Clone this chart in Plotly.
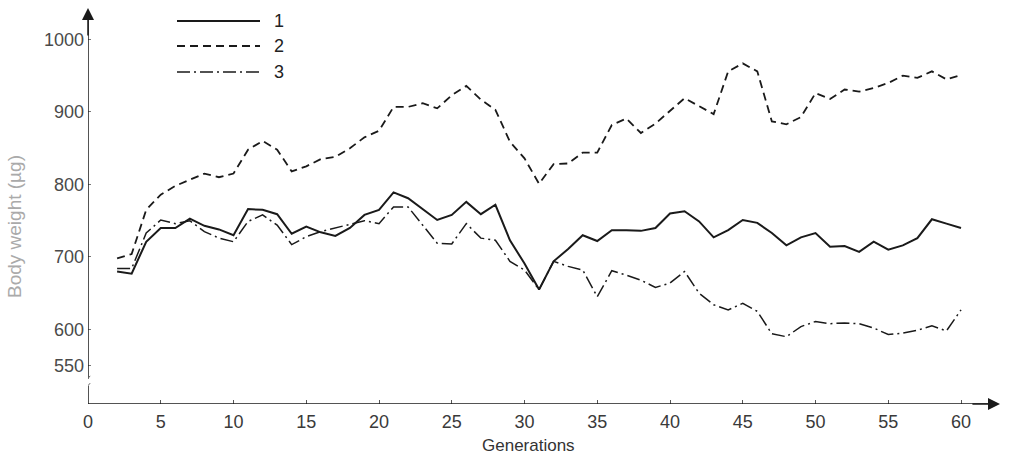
import plotly.graph_objects as go

generations = list(range(2, 61))
line1 = [680, 677, 721, 740, 740, 753, 743, 738, 730, 766, 765, 759, 732, 742, 734,
         729, 740, 758, 765, 789, 781, 766, 751, 758, 776, 759, 772, 723, 691, 655,
         694, 711, 730, 722, 737, 737, 736, 740, 760, 763, 749, 727, 737, 751, 747,
         733, 716, 727, 733, 714, 715, 707, 721, 710, 716, 726, 752, 746, 740]
line2 = [698, 704, 765, 786, 798, 806, 815, 810, 815, 848, 860, 848, 818, 825, 835,
         838, 850, 865, 874, 907, 907, 912, 905, 923, 936, 917, 903, 859, 836, 801,
         828, 829, 844, 844, 882, 891, 871, 884, 902, 919, 908, 897, 956, 967, 956,
         887, 883, 893, 926, 918, 931, 928, 933, 940, 950, 947, 956, 945, 951]
line3 = [684, 684, 733, 751, 746, 750, 735, 726, 721, 749, 758, 744, 717, 728, 735,
         740, 746, 750, 746, 769, 769, 744, 719, 718, 746, 726, 723, 694, 682, 655,
         694, 687, 682, 645, 681, 675, 668, 658, 664, 680, 650, 634, 627, 636, 625,
         594, 590, 604, 611, 608, 609, 608, 602, 593, 595, 599, 605, 598, 627]

series_names = ["1", "2", "3"]
x_ticks = list(range(0, 61, 5))
y_ticks = [550, 600, 700, 800, 900, 1000]

W, H = 1012, 457
ML, MR, MT, MB = 88, 12, 8, 53
X_MAX = 62.68
Y_MIN, Y_MAX = 497.2, 1043.4

ink = "#1a1a1a"
styles = [
    dict(color=ink, width=2.0, dash="solid"),
    dict(color=ink, width=1.8, dash="8px,5px"),
    dict(color=ink, width=1.5, dash="13px,4px,2px,4px"),
]

fig = go.Figure()
for name, ys, st in zip(series_names, [line1, line2, line3], styles):
    fig.add_trace(go.Scatter(x=generations, y=ys, mode="lines", name=name,
                             line=st, showlegend=False, cliponaxis=False))

font = "Liberation Sans, Arial, sans-serif"

fig.update_layout(
    width=W, height=H,
    margin=dict(l=ML, r=MR, t=MT, b=MB),
    paper_bgcolor="white", plot_bgcolor="white",
    xaxis=dict(range=[0, X_MAX], tickvals=x_ticks, showgrid=False, zeroline=False,
               showline=False, ticks="inside", ticklen=4, tickcolor="#555",
               ticklabelstandoff=5,
               tickfont=dict(family=font, size=18, color="#3a3a3a")),
    yaxis=dict(range=[Y_MIN, Y_MAX], tickvals=y_ticks, showgrid=False, zeroline=False,
               showline=False, ticks="inside", ticklen=3, tickcolor="#777",
               ticklabelstandoff=3,
               tickfont=dict(family=font, size=18, color="#4a4a4a")),
)

# axes lines with arrows
fig.add_shape(type="line", xref="x", yref="y", x0=0, x1=X_MAX - 0.8, y0=Y_MIN, y1=Y_MIN,
              line=dict(color=ink, width=1.5))
fig.add_shape(type="line", xref="x", yref="y", x0=0, x1=0, y0=Y_MIN, y1=522,
              line=dict(color=ink, width=1.5))
fig.add_shape(type="line", xref="x", yref="y", x0=0, x1=0, y0=532, y1=Y_MAX - 10,
              line=dict(color=ink, width=1.5))
# axis break marks
fig.add_shape(type="line", xref="x", yref="y", x0=-0.15, x1=0.15, y0=519, y1=526,
              line=dict(color="#666", width=1))
fig.add_shape(type="line", xref="x", yref="y", x0=-0.15, x1=0.15, y0=529, y1=536,
              line=dict(color="#666", width=1))

fig.add_annotation(x=X_MAX, y=Y_MIN, ax=X_MAX - 2, ay=Y_MIN, xref="x", yref="y",
                   axref="x", ayref="y", text="", showarrow=True, arrowhead=2,
                   arrowsize=1.6, arrowwidth=1.5, arrowcolor=ink)
fig.add_annotation(x=0, y=Y_MAX, ax=0, ay=Y_MAX - 40, xref="x", yref="y",
                   axref="x", ayref="y", text="", showarrow=True, arrowhead=2,
                   arrowsize=1.6, arrowwidth=1.5, arrowcolor=ink)

# legend drawn manually
leg_y = [21, 46, 72]
for name, st, py in zip(series_names, styles, leg_y):
    yp = 1 - (py - MT) / (H - MT - MB)
    x0 = (177 - ML) / (W - ML - MR)
    x1 = (260 - ML) / (W - ML - MR)
    fig.add_shape(type="line", xref="paper", yref="paper", x0=x0, x1=x1, y0=yp, y1=yp,
                  line=st)
    fig.add_annotation(xref="paper", yref="paper", x=(279 - ML) / (W - ML - MR), y=yp,
                       text=name, showarrow=False, xanchor="center", yanchor="middle",
                       font=dict(family=font, size=18, color="#222"))

# axis titles
fig.add_annotation(xref="paper", yref="paper", x=(528 - ML) / (W - ML - MR),
                   y=-(446 - (H - MB)) / (H - MT - MB), text="Generations",
                   showarrow=False, xanchor="center", yanchor="middle",
                   font=dict(family=font, size=17, color="#333"))
fig.add_annotation(xref="paper", yref="paper", x=-(ML - 15) / (W - ML - MR),
                   y=1 - (227 - MT) / (H - MT - MB), text="Body weight (µg)",
                   textangle=-90, showarrow=False, xanchor="center", yanchor="middle",
                   font=dict(family=font, size=19, color="#aaa"))

fig.write_html("out.html")
